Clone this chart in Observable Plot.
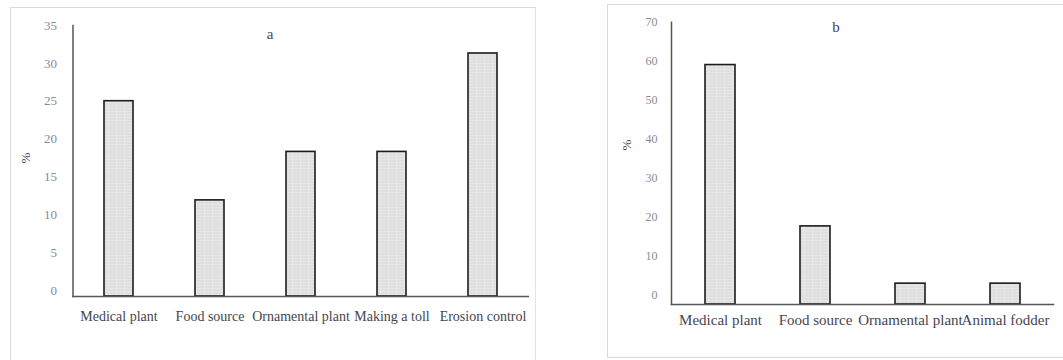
<!DOCTYPE html>
<html>
<head>
<meta charset="utf-8">
<script src="https://cdn.jsdelivr.net/npm/d3@7"></script>
<script src="https://cdn.jsdelivr.net/npm/@observablehq/plot@0.6"></script>
<style>
  body { margin: 0; background: #fff; }
  #wrap { position: relative; width: 1063px; height: 360px; overflow: hidden; font-family: "Liberation Serif", "Times New Roman", serif; }
  .frameA { position: absolute; left: 10px; top: 7px; width: 526px; height: 360px; border-left: 1px solid #d9d9d9; border-top: 1px solid #d9d9d9; border-right: 1px solid #e3e3e3; box-sizing: border-box; }
  .frameB { position: absolute; left: 607px; top: 4px; width: 470px; height: 354px; border-left: 1px solid #d9d9d9; border-top: 1px solid #d9d9d9; border-bottom: 1px solid #d9d9d9; box-sizing: border-box; }
  .panel { position: absolute; top: 0; }
  .panel svg, .panel svg text { font-family: "Liberation Serif", "Times New Roman", serif !important; }
  .lbl { position: absolute; color: #454550; white-space: nowrap; }
</style>
</head>
<body>
<div id="wrap">
  <div class="frameA"></div>
  <div class="frameB"></div>
  <div id="pa" class="panel" style="left:0px"></div>
  <div id="pb" class="panel" style="left:600px"></div>
</div>
<script>
// Panel a
const catsA = ["Medical plant", "Food source", "Ornamental plant", "Making a toll", "Erosion control"];
const valsA = [25, 11.9, 18.3, 18.3, 31.3];
const ticksA = [0, 5, 10, 15, 20, 25, 30, 35];
const baseA = -0.8;

// Panel b
const catsB = ["Medical plant", "Food source", "Ornamental plant", "Animal fodder"];
const valsB = [59, 17.6, 2.9, 2.9];
const ticksB = [0, 10, 20, 30, 40, 50, 60, 70];
const baseB = -2.45;

const SERIF = "Liberation Serif, Times New Roman, serif";

function addPattern(svg, id) {
  const ns = "http://www.w3.org/2000/svg";
  const defs = document.createElementNS(ns, "defs");
  defs.innerHTML = `<pattern id="${id}" width="8" height="3" patternUnits="userSpaceOnUse">
    <rect width="8" height="3" fill="#dfdfdf"/>
    <rect y="0" width="8" height="1" fill="#e6e6e6"/>
    <rect x="4" width="1" height="3" fill="#e8e8e8"/>
  </pattern>`;
  svg.insertBefore(defs, svg.firstChild);
}

function panel(cats, vals, ticks, base, opts) {
  const data = cats.map((c, i) => ({cat: c, v: vals[i]}));
  const svg = Plot.plot({
    width: opts.width,
    height: 360,
    marginLeft: opts.ml,
    marginRight: opts.mr,
    marginTop: opts.mt,
    marginBottom: opts.mb,
    style: {background: "transparent", overflow: "visible"},
    x: {domain: cats, paddingInner: 0.685, paddingOuter: 0.3425, label: null},
    y: {domain: [base, ticks[ticks.length - 1]], label: null},
    marks: [
      Plot.axisY({ticks: ticks, tickSize: 0, tickPadding: opts.tp, fontSize: opts.tfs, fontFamily: SERIF, fill: "#8a8a98", tickFormat: d => String(d)}),
      Plot.axisX({tickSize: 0, tickPadding: opts.xp, fontSize: opts.xfs, fontFamily: SERIF, fill: "#454550"}),
      Plot.barY(data, {x: "cat", y1: () => base, y2: "v", fill: `url(#${opts.pid})`, stroke: "#1c1c1c", strokeWidth: 1.6}),
      Plot.frame({anchor: "left", stroke: "#555", strokeWidth: 1.5}),
      Plot.frame({anchor: "bottom", stroke: "#555", strokeWidth: 1.5})
    ]
  });
  svg.style.fontFamily = SERIF;
  addPattern(svg, opts.pid);
  return svg;
}

const svgA = panel(catsA, valsA, ticksA, baseA, {width: 545, ml: 72.5, mr: 17.2, mt: 25, mb: 64, tp: 16, tfs: 13, xp: 15, xfs: 14, pid: "patA"});
document.getElementById("pa").appendChild(svgA);

const svgB = panel(catsB, valsB, ticksB, baseB, {width: 463, ml: 71, mr: 10, mt: 21.7, mb: 56, tp: 14, tfs: 12, xp: 10, xfs: 15, pid: "patB"});
document.getElementById("pb").appendChild(svgB);

// titles and y labels
const wrap = document.getElementById("wrap");
function addLabel(text, x, y, size, rotate) {
  const d = document.createElement("div");
  d.className = "lbl";
  d.textContent = text;
  d.style.fontSize = size + "px";
  d.style.left = x + "px";
  d.style.top = y + "px";
  d.style.transform = "translate(-50%,-50%)" + (rotate ? " rotate(-90deg)" : "");
  wrap.appendChild(d);
}
addLabel("a", 270, 34, 15, false);
addLabel("b", 836, 27, 15, false);
addLabel("%", 26, 158, 13, true);
addLabel("%", 627, 145, 13, true);
</script>
</body>
</html>
